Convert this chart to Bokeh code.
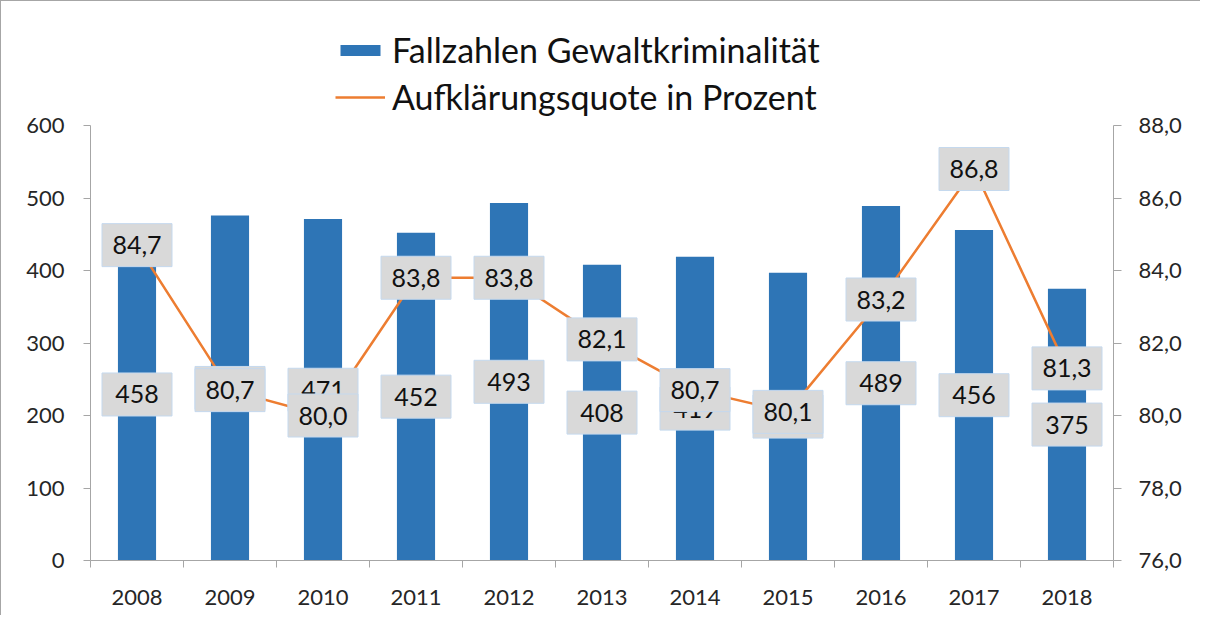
from bokeh.plotting import figure
from bokeh.models import (ColumnDataSource, Range1d, LinearAxis, FixedTicker,
                          Legend, LegendItem)
from bokeh.core.properties import value
from bokeh.embed import file_html
from bokeh.resources import INLINE

years = [2008, 2009, 2010, 2011, 2012, 2013, 2014, 2015, 2016, 2017, 2018]
fallzahlen = [458, 476, 471, 452, 493, 408, 419, 397, 489, 456, 375]
quote = [84.7, 80.7, 80.0, 83.8, 83.8, 82.1, 80.7, 80.1, 83.2, 86.8, 81.3]
left_ticks = [0, 100, 200, 300, 400, 500, 600]
right_ticks = [76, 78, 80, 82, 84, 86, 88]

FONT = "Lato"
BLUE = "#2e75b6"
ORANGE = "#ed7d31"
AXIS = "#a6a6a6"
TXT = "#262626"

src = ColumnDataSource(dict(
    year=years,
    fall=fallzahlen,
    fall_mid=[v / 2 for v in fallzahlen],
    fall_txt=[str(v) for v in fallzahlen],
    quote=quote,
    quote_txt=[f"{v:.1f}".replace(".", ",") for v in quote],
))

# layout (canvas pixels)
W, H = 1200, 615
F_LEFT, F_RIGHT, F_TOP, F_BOTTOM = 89, 1112, 19, 559
AX_TOP = 124                       # pixel where the axes end (600 / 88,0)
scale = (F_BOTTOM - F_TOP) / (F_BOTTOM - AX_TOP)
l0, l1 = left_ticks[0], left_ticks[-1]
r0, r1 = right_ticks[0], right_ticks[-1]

p = figure(width=W, height=H, output_backend="svg", toolbar_location=None,
           x_range=Range1d(years[0] - 0.5, years[-1] + 0.5),
           y_range=Range1d(l0, l0 + (l1 - l0) * scale),
           min_border_left=F_LEFT, min_border_right=W - F_RIGHT,
           min_border_top=F_TOP, min_border_bottom=H - F_BOTTOM)
p.extra_y_ranges = {"q": Range1d(r0, r0 + (r1 - r0) * scale)}
p.styles = {"border-left": "1px solid #a6a6a6", "border-top": "1px solid #a6a6a6"}
p.outline_line_color = None
p.xgrid.visible = False
p.ygrid.visible = False
p.background_fill_color = "white"
p.border_fill_color = "white"

bars = p.vbar(x="year", top="fall", width=0.41, source=src, fill_color=BLUE,
              line_color=None)
line = p.line(x="year", y="quote", source=src, line_color=ORANGE, line_width=2.5,
              y_range_name="q")

rect_style = dict(width=70, height=43, width_units="screen", height_units="screen",
                  fill_color="#d9d9d9", line_color="#c5d9ee", line_width=1)
text_style = dict(text_font=value(FONT), text_font_size="25px", text_color="#111111",
                  text_align="center", text_baseline="middle")
p.rect(x="year", y="fall_mid", source=src, **rect_style)
p.text(x="year", y="fall_mid", text="fall_txt", source=src, **text_style)
p.rect(x="year", y="quote", source=src, y_range_name="q", **rect_style)
p.text(x="year", y="quote", text="quote_txt", source=src, y_range_name="q", **text_style)

# x axis
xa = p.xaxis[0]
xa.ticker = FixedTicker(ticks=years, minor_ticks=[y + 0.5 for y in [years[0] - 1] + years])
xa.major_label_overrides = {y: str(y) for y in years}
xa.major_tick_line_color = None
xa.major_tick_out = 0
xa.major_tick_in = 0
xa.minor_tick_out = 7
xa.minor_tick_in = 0
xa.minor_tick_line_color = AXIS
xa.axis_line_color = AXIS
xa.major_label_standoff = 22
xa.major_label_text_font = FONT
xa.major_label_text_font_size = "22px"
xa.major_label_text_color = TXT

ya = p.yaxis[0]
ya.ticker = FixedTicker(ticks=left_ticks, minor_ticks=[])
ya.bounds = (l0, l1)
ya.axis_line_color = AXIS
ya.major_tick_line_color = AXIS
ya.major_tick_out = 7
ya.major_tick_in = 0
ya.major_label_standoff = 19
ya.major_label_text_font = FONT
ya.major_label_text_font_size = "22px"
ya.major_label_text_color = TXT

ra = LinearAxis(y_range_name="q")
ra.ticker = FixedTicker(ticks=right_ticks, minor_ticks=[])
ra.bounds = (r0, r1)
ra.major_label_overrides = {t: f"{t:.1f}".replace(".", ",") for t in right_ticks}
ra.axis_line_color = AXIS
ra.major_tick_line_color = AXIS
ra.major_tick_out = 8
ra.major_tick_in = 0
ra.major_label_standoff = 17
ra.major_label_text_font = FONT
ra.major_label_text_font_size = "22px"
ra.major_label_text_color = TXT
p.add_layout(ra, "right")

legend = Legend(items=[LegendItem(label="Fallzahlen Gewaltkriminalität", renderers=[bars]),
                       LegendItem(label="Aufklärungsquote in Prozent", renderers=[line])],
                location=(245, F_BOTTOM - AX_TOP + 8), orientation="vertical",
                glyph_width=50, glyph_height=14, label_height=41, spacing=6,
                label_standoff=7, padding=0, margin=0,
                border_line_color=None, background_fill_alpha=0,
                label_text_font=FONT, label_text_font_size="34px",
                label_text_color="#111111")
p.add_layout(legend, "center")

open("out.html", "w").write(file_html(p, INLINE))
